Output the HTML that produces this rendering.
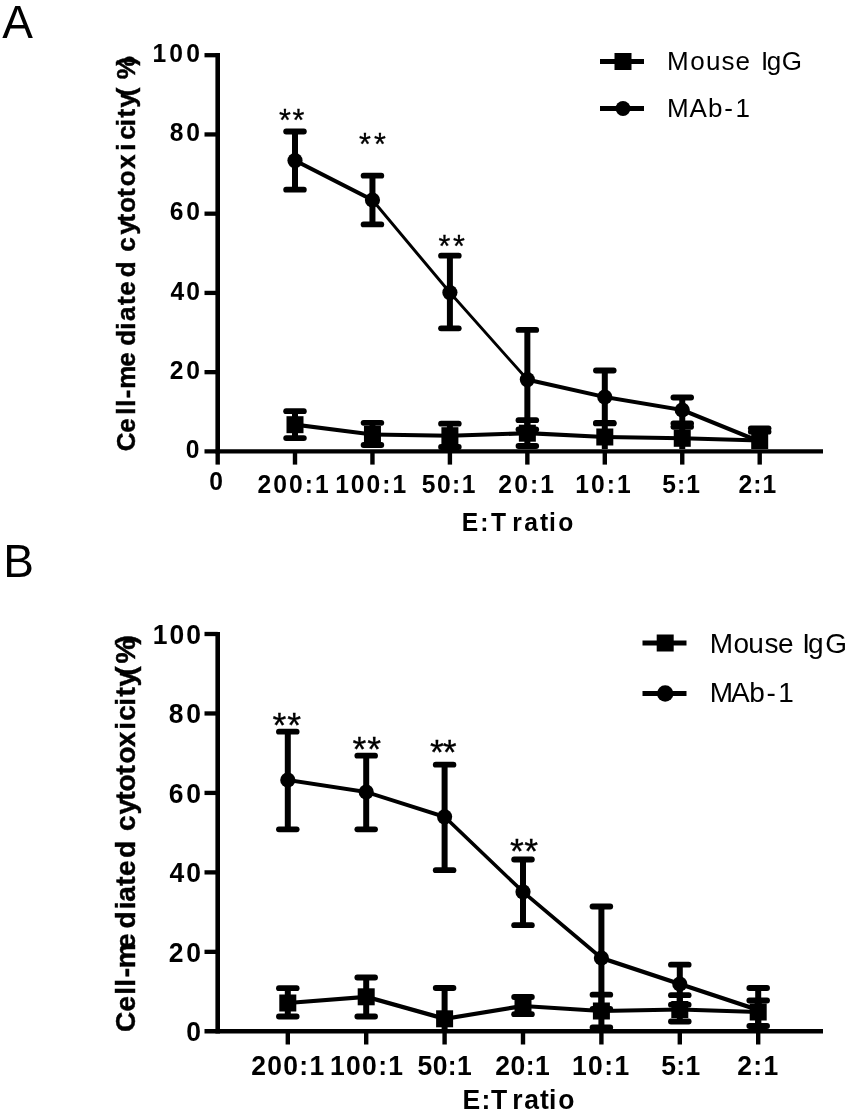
<!DOCTYPE html>
<html lang="en">
<head>
<meta charset="utf-8">
<title>Cell-mediated cytotoxicity</title>
<style>
html,body{margin:0;padding:0;background:#fff;}
body{width:850px;height:1118px;overflow:hidden;}
svg{display:block;}
text{font-family:"Liberation Sans", sans-serif;fill:#000;white-space:pre;}
.tk{font-weight:bold;}
.rg{font-weight:normal;}
</style>
</head>
<body>
<svg width="850" height="1118" viewBox="0 0 850 1118">
<rect x="0" y="0" width="850" height="1118" fill="#fff"/>
<g id="panelA">
<line x1="217.7" y1="53.10" x2="217.7" y2="453.50" stroke="#000" stroke-width="4.6"/>
<line x1="204.5" y1="451.4" x2="823" y2="451.4" stroke="#000" stroke-width="4.4"/>
<text transform="translate(185.73,458.20) scale(0.93,1.0)" class="tk" style="font-size:26.5px;letter-spacing:0.00px">0</text>
<line x1="204.5" y1="372.16" x2="217.7" y2="372.16" stroke="#000" stroke-width="4.3"/>
<text transform="translate(169.73,378.96) scale(0.93,1.0)" class="tk" style="font-size:26.5px;letter-spacing:3.07px">20</text>
<line x1="204.5" y1="292.92" x2="217.7" y2="292.92" stroke="#000" stroke-width="4.3"/>
<text transform="translate(170.50,299.72) scale(0.93,1.0)" class="tk" style="font-size:26.5px;letter-spacing:2.24px">40</text>
<line x1="204.5" y1="213.68" x2="217.7" y2="213.68" stroke="#000" stroke-width="4.3"/>
<text transform="translate(169.73,220.48) scale(0.93,1.0)" class="tk" style="font-size:26.5px;letter-spacing:3.07px">60</text>
<line x1="204.5" y1="134.44" x2="217.7" y2="134.44" stroke="#000" stroke-width="4.3"/>
<text transform="translate(169.73,141.24) scale(0.93,1.0)" class="tk" style="font-size:26.5px;letter-spacing:3.07px">80</text>
<line x1="204.5" y1="55.20" x2="217.7" y2="55.20" stroke="#000" stroke-width="4.3"/>
<text transform="translate(152.46,62.00) scale(0.93,1.0)" class="tk" style="font-size:26.5px;letter-spacing:3.45px">100</text>
<line x1="217.70" y1="451.4" x2="217.70" y2="464.60" stroke="#000" stroke-width="4.4"/>
<line x1="295.00" y1="451.4" x2="295.00" y2="464.60" stroke="#000" stroke-width="4.4"/>
<line x1="372.45" y1="451.4" x2="372.45" y2="464.60" stroke="#000" stroke-width="4.4"/>
<line x1="449.90" y1="451.4" x2="449.90" y2="464.60" stroke="#000" stroke-width="4.4"/>
<line x1="527.35" y1="451.4" x2="527.35" y2="464.60" stroke="#000" stroke-width="4.4"/>
<line x1="604.80" y1="451.4" x2="604.80" y2="464.60" stroke="#000" stroke-width="4.4"/>
<line x1="682.25" y1="451.4" x2="682.25" y2="464.60" stroke="#000" stroke-width="4.4"/>
<line x1="759.70" y1="451.4" x2="759.70" y2="464.60" stroke="#000" stroke-width="4.4"/>
<text transform="translate(257.43,493.00) scale(0.93,1.0)" class="tk" style="font-size:26.5px;letter-spacing:2.25px">200:1</text>
<text transform="translate(335.16,493.00) scale(0.93,1.0)" class="tk" style="font-size:26.5px;letter-spacing:2.14px">100:1</text>
<text transform="translate(421.71,493.00) scale(0.93,1.0)" class="tk" style="font-size:26.5px;letter-spacing:1.62px">50:1</text>
<text transform="translate(498.33,493.00) scale(0.93,1.0)" class="tk" style="font-size:26.5px;letter-spacing:2.26px">20:1</text>
<text transform="translate(575.16,493.00) scale(0.93,1.0)" class="tk" style="font-size:26.5px;letter-spacing:2.21px">10:1</text>
<text transform="translate(662.21,493.00) scale(0.93,1.0)" class="tk" style="font-size:26.5px;letter-spacing:1.14px">5:1</text>
<text transform="translate(738.43,493.00) scale(0.93,1.0)" class="tk" style="font-size:26.5px;letter-spacing:1.13px">2:1</text>
<text transform="translate(209.23,489.70) scale(0.93,1.0)" class="tk" style="font-size:26.5px;letter-spacing:0.00px">0</text>
<text transform="translate(0,530.50) scale(0.93,1)" class="tk" style="font-size:26.5px"><tspan x="496.62 516.33 527.96">E:T</tspan> <tspan x="550.92 563.67 580.54 590.39 600.25">ratio</tspan></text>
<text transform="translate(135.3,450.5) rotate(-90) scale(1.0,1)" class="tk" style="font-size:26px" stroke="#000" stroke-width="0.45"><tspan x="-0.81 17.69 35.88 43.88 52.29 61.88 83.69 104.69 120.88 129.59 145.50 154.69 173.29">Cell-mediated</tspan> <tspan x="198.89 216.00 227.90 237.69 253.50 264.19 281.50 299.88 310.69 324.38 332.90 342.90 354.28 371.29 385.00">cytotoxicity(%)</tspan></text>
<text x="2.2" y="38.1" class="rg" style="font-size:46px">A</text>
<path fill="#000" d="M295.00 422.58 L372.45 432.38 L372.45 436.62 L295.00 426.82Z M372.45 432.44 L449.90 433.64 L449.90 437.76 L372.45 436.56Z M449.90 433.63 L527.35 431.13 L527.35 435.27 L449.90 437.77Z M527.35 431.12 L604.80 434.92 L604.80 439.08 L527.35 435.28Z M604.80 434.94 L682.25 436.24 L682.25 440.36 L604.80 439.06Z M682.25 436.23 L759.70 438.43 L759.70 442.57 L682.25 440.37Z"/>
<path fill="#000" d="M295.00 158.37 L372.45 197.77 L372.45 202.23 L295.00 162.83Z M370.50 200.00 L447.95 292.60 L451.85 292.60 L374.40 200.00Z M447.95 292.60 L525.40 379.60 L529.30 379.60 L451.85 292.60Z M527.35 377.53 L604.80 394.93 L604.80 399.07 L527.35 381.67Z M604.80 394.96 L682.25 407.96 L682.25 412.04 L604.80 399.04Z M682.25 407.83 L759.70 439.33 L759.70 443.67 L682.25 412.17Z"/>
<line x1="295.00" y1="411.20" x2="295.00" y2="438.10" stroke="#000" stroke-width="6.0"/>
<line x1="286.15" y1="411.20" x2="303.85" y2="411.20" stroke="#000" stroke-width="5.8" stroke-linecap="round"/>
<line x1="286.15" y1="438.10" x2="303.85" y2="438.10" stroke="#000" stroke-width="5.8" stroke-linecap="round"/>
<rect x="286.50" y="416.20" width="17" height="17" fill="#000"/>
<line x1="372.45" y1="422.80" x2="372.45" y2="445.00" stroke="#000" stroke-width="6.0"/>
<line x1="363.60" y1="422.80" x2="381.30" y2="422.80" stroke="#000" stroke-width="5.8" stroke-linecap="round"/>
<line x1="363.60" y1="445.00" x2="381.30" y2="445.00" stroke="#000" stroke-width="5.8" stroke-linecap="round"/>
<rect x="363.95" y="426.00" width="17" height="17" fill="#000"/>
<line x1="449.90" y1="423.70" x2="449.90" y2="447.00" stroke="#000" stroke-width="6.0"/>
<line x1="441.05" y1="423.70" x2="458.75" y2="423.70" stroke="#000" stroke-width="5.8" stroke-linecap="round"/>
<line x1="441.05" y1="447.00" x2="458.75" y2="447.00" stroke="#000" stroke-width="5.8" stroke-linecap="round"/>
<rect x="441.40" y="427.20" width="17" height="17" fill="#000"/>
<line x1="527.35" y1="420.20" x2="527.35" y2="446.00" stroke="#000" stroke-width="6.0"/>
<line x1="518.50" y1="420.20" x2="536.20" y2="420.20" stroke="#000" stroke-width="5.8" stroke-linecap="round"/>
<line x1="518.50" y1="446.00" x2="536.20" y2="446.00" stroke="#000" stroke-width="5.8" stroke-linecap="round"/>
<rect x="518.85" y="424.70" width="17" height="17" fill="#000"/>
<line x1="604.80" y1="423.40" x2="604.80" y2="449.00" stroke="#000" stroke-width="6.0"/>
<line x1="595.95" y1="423.40" x2="613.65" y2="423.40" stroke="#000" stroke-width="5.8" stroke-linecap="round"/>
<rect x="596.30" y="428.50" width="17" height="17" fill="#000"/>
<line x1="682.25" y1="426.80" x2="682.25" y2="449.00" stroke="#000" stroke-width="6.0"/>
<line x1="673.40" y1="426.80" x2="691.10" y2="426.80" stroke="#000" stroke-width="5.8" stroke-linecap="round"/>
<rect x="673.75" y="429.80" width="17" height="17" fill="#000"/>
<line x1="759.70" y1="431.70" x2="759.70" y2="449.00" stroke="#000" stroke-width="6.0"/>
<line x1="750.85" y1="431.70" x2="768.55" y2="431.70" stroke="#000" stroke-width="5.8" stroke-linecap="round"/>
<rect x="751.20" y="432.00" width="17" height="17" fill="#000"/>
<line x1="295.00" y1="131.50" x2="295.00" y2="189.70" stroke="#000" stroke-width="6.0"/>
<line x1="286.15" y1="131.50" x2="303.85" y2="131.50" stroke="#000" stroke-width="5.8" stroke-linecap="round"/>
<line x1="286.15" y1="189.70" x2="303.85" y2="189.70" stroke="#000" stroke-width="5.8" stroke-linecap="round"/>
<circle cx="295.00" cy="160.60" r="7.6" fill="#000"/>
<line x1="372.45" y1="175.70" x2="372.45" y2="224.40" stroke="#000" stroke-width="6.0"/>
<line x1="363.60" y1="175.70" x2="381.30" y2="175.70" stroke="#000" stroke-width="5.8" stroke-linecap="round"/>
<line x1="363.60" y1="224.40" x2="381.30" y2="224.40" stroke="#000" stroke-width="5.8" stroke-linecap="round"/>
<circle cx="372.45" cy="200.00" r="7.6" fill="#000"/>
<line x1="449.90" y1="255.70" x2="449.90" y2="328.30" stroke="#000" stroke-width="6.0"/>
<line x1="441.05" y1="255.70" x2="458.75" y2="255.70" stroke="#000" stroke-width="5.8" stroke-linecap="round"/>
<line x1="441.05" y1="328.30" x2="458.75" y2="328.30" stroke="#000" stroke-width="5.8" stroke-linecap="round"/>
<circle cx="449.90" cy="292.60" r="7.6" fill="#000"/>
<line x1="527.35" y1="329.90" x2="527.35" y2="429.50" stroke="#000" stroke-width="6.0"/>
<line x1="518.50" y1="329.90" x2="536.20" y2="329.90" stroke="#000" stroke-width="5.8" stroke-linecap="round"/>
<line x1="518.50" y1="429.50" x2="536.20" y2="429.50" stroke="#000" stroke-width="5.8" stroke-linecap="round"/>
<circle cx="527.35" cy="379.60" r="7.6" fill="#000"/>
<line x1="604.80" y1="370.50" x2="604.80" y2="423.00" stroke="#000" stroke-width="6.0"/>
<line x1="595.95" y1="370.50" x2="613.65" y2="370.50" stroke="#000" stroke-width="5.8" stroke-linecap="round"/>
<line x1="595.95" y1="423.00" x2="613.65" y2="423.00" stroke="#000" stroke-width="5.8" stroke-linecap="round"/>
<circle cx="604.80" cy="397.00" r="7.6" fill="#000"/>
<line x1="682.25" y1="397.50" x2="682.25" y2="423.50" stroke="#000" stroke-width="6.0"/>
<line x1="673.40" y1="397.50" x2="691.10" y2="397.50" stroke="#000" stroke-width="5.8" stroke-linecap="round"/>
<line x1="673.40" y1="423.50" x2="691.10" y2="423.50" stroke="#000" stroke-width="5.8" stroke-linecap="round"/>
<circle cx="682.25" cy="410.00" r="7.6" fill="#000"/>
<line x1="759.70" y1="428.30" x2="759.70" y2="449.00" stroke="#000" stroke-width="6.0"/>
<line x1="750.85" y1="428.30" x2="768.55" y2="428.30" stroke="#000" stroke-width="5.8" stroke-linecap="round"/>
<circle cx="759.70" cy="441.50" r="7.6" fill="#000"/>
<text transform="translate(279.02,131.00) scale(1.0,1.0)" class="rg" style="font-size:30.5px;letter-spacing:1.67px" stroke="#000" stroke-width="0.3">**</text>
<text transform="translate(359.02,154.90) scale(1.0,1.0)" class="rg" style="font-size:30.5px;letter-spacing:3.17px" stroke="#000" stroke-width="0.3">**</text>
<text transform="translate(438.52,257.30) scale(1.0,1.0)" class="rg" style="font-size:30.5px;letter-spacing:2.67px" stroke="#000" stroke-width="0.3">**</text>
<line x1="600" y1="61.5" x2="644" y2="61.5" stroke="#000" stroke-width="5"/>
<rect x="614.50" y="53.00" width="17" height="17" fill="#000"/>
<line x1="600" y1="108.5" x2="644" y2="108.5" stroke="#000" stroke-width="5"/>
<circle cx="623.00" cy="108.5" r="7.5" fill="#000"/>
<text transform="translate(0,70.00) scale(1.0,1)" class="rg" style="font-size:26px"><tspan x="666.97 690.19 705.88 721.59 735.49">Mouse</tspan> <tspan x="760.97 766.69 781.78">IgG</tspan></text>
<text transform="translate(0,117.00) scale(1.0,1)" class="rg" style="font-size:26px"><tspan x="666.97 689.50 707.88 724.19 735.38">MAb-1</tspan></text>
</g>
<g id="panelB">
<line x1="217.7" y1="631.90" x2="217.7" y2="1033.40" stroke="#000" stroke-width="4.6"/>
<line x1="204.5" y1="1031.3" x2="823" y2="1031.3" stroke="#000" stroke-width="4.4"/>
<text transform="translate(186.17,1041.30) scale(0.93,1.0)" class="tk" style="font-size:28.5px;letter-spacing:0.00px">0</text>
<line x1="204.5" y1="951.84" x2="217.7" y2="951.84" stroke="#000" stroke-width="4.3"/>
<text transform="translate(168.67,961.84) scale(0.93,1.0)" class="tk" style="font-size:28.5px;letter-spacing:3.14px">20</text>
<line x1="204.5" y1="872.38" x2="217.7" y2="872.38" stroke="#000" stroke-width="4.3"/>
<text transform="translate(169.50,882.38) scale(0.93,1.0)" class="tk" style="font-size:28.5px;letter-spacing:2.25px">40</text>
<line x1="204.5" y1="792.92" x2="217.7" y2="792.92" stroke="#000" stroke-width="4.3"/>
<text transform="translate(168.67,802.92) scale(0.93,1.0)" class="tk" style="font-size:28.5px;letter-spacing:3.14px">60</text>
<line x1="204.5" y1="713.46" x2="217.7" y2="713.46" stroke="#000" stroke-width="4.3"/>
<text transform="translate(168.67,723.46) scale(0.93,1.0)" class="tk" style="font-size:28.5px;letter-spacing:3.14px">80</text>
<line x1="204.5" y1="634.00" x2="217.7" y2="634.00" stroke="#000" stroke-width="4.3"/>
<text transform="translate(152.84,644.00) scale(0.93,1.0)" class="tk" style="font-size:28.5px;letter-spacing:2.15px">100</text>
<line x1="287.80" y1="1031.3" x2="287.80" y2="1044.50" stroke="#000" stroke-width="4.4"/>
<line x1="366.20" y1="1031.3" x2="366.20" y2="1044.50" stroke="#000" stroke-width="4.4"/>
<line x1="444.60" y1="1031.3" x2="444.60" y2="1044.50" stroke="#000" stroke-width="4.4"/>
<line x1="523.00" y1="1031.3" x2="523.00" y2="1044.50" stroke="#000" stroke-width="4.4"/>
<line x1="601.40" y1="1031.3" x2="601.40" y2="1044.50" stroke="#000" stroke-width="4.4"/>
<line x1="679.80" y1="1031.3" x2="679.80" y2="1044.50" stroke="#000" stroke-width="4.4"/>
<line x1="758.20" y1="1031.3" x2="758.20" y2="1044.50" stroke="#000" stroke-width="4.4"/>
<text transform="translate(251.17,1074.80) scale(0.93,1.0)" class="tk" style="font-size:28.5px;letter-spacing:1.39px">200:1</text>
<text transform="translate(329.94,1074.80) scale(0.93,1.0)" class="tk" style="font-size:28.5px;letter-spacing:1.45px">100:1</text>
<text transform="translate(417.59,1074.80) scale(0.93,1.0)" class="tk" style="font-size:28.5px;letter-spacing:0.40px">50:1</text>
<text transform="translate(495.17,1074.80) scale(0.93,1.0)" class="tk" style="font-size:28.5px;letter-spacing:0.54px">20:1</text>
<text transform="translate(571.94,1074.80) scale(0.93,1.0)" class="tk" style="font-size:28.5px;letter-spacing:1.49px">10:1</text>
<text transform="translate(661.19,1074.80) scale(0.93,1.0)" class="tk" style="font-size:28.5px;letter-spacing:0.35px">5:1</text>
<text transform="translate(737.17,1074.80) scale(0.93,1.0)" class="tk" style="font-size:28.5px;letter-spacing:1.43px">2:1</text>
<text transform="translate(0,1109.00) scale(0.93,1)" class="tk" style="font-size:28.5px"><tspan x="497.36 517.76 527.96">E:T</tspan> <tspan x="550.80 563.64 580.54 590.26 600.18">ratio</tspan></text>
<text transform="translate(135.1,1031) rotate(-90) scale(1.0,1)" class="tk" style="font-size:28px" stroke="#000" stroke-width="0.45"><tspan x="-0.88 19.62 36.25 44.25 53.73 62.85 82.12 102.53 121.65 129.26 145.30 154.93 173.12">Cell-mediated</tspan> <tspan x="200.03 216.50 230.30 239.43 256.60 267.62 283.70 301.25 310.32 325.25 334.50 344.50 355.19 367.56 386.50">cytotoxicity(%)</tspan></text>
<text x="3.3" y="576.9" class="rg" style="font-size:46px">B</text>
<path fill="#000" d="M287.80 1000.90 L366.20 994.70 L366.20 998.90 L287.80 1005.10Z M366.20 994.59 L444.60 1016.59 L444.60 1021.01 L366.20 999.01Z M444.60 1016.66 L523.00 1003.86 L523.00 1008.14 L444.60 1020.94Z M523.00 1003.91 L601.40 1008.91 L601.40 1013.09 L523.00 1008.09Z M601.40 1008.94 L679.80 1007.44 L679.80 1011.56 L601.40 1013.06Z M679.80 1007.43 L758.20 1009.93 L758.20 1014.07 L679.80 1011.57Z"/>
<path fill="#000" d="M287.80 777.97 L366.20 789.97 L366.20 794.03 L287.80 782.03Z M366.20 789.88 L444.60 814.68 L444.60 818.92 L366.20 794.12Z M444.60 814.33 L523.00 889.33 L523.00 894.27 L444.60 819.27Z M523.00 889.39 L601.40 955.59 L601.40 960.41 L523.00 894.21Z M601.40 955.87 L679.80 981.87 L679.80 986.13 L601.40 960.13Z M679.80 981.87 L758.20 1007.87 L758.20 1012.13 L679.80 986.13Z"/>
<line x1="287.80" y1="988.20" x2="287.80" y2="1016.50" stroke="#000" stroke-width="6.0"/>
<line x1="278.95" y1="988.20" x2="296.65" y2="988.20" stroke="#000" stroke-width="5.8" stroke-linecap="round"/>
<line x1="278.95" y1="1016.50" x2="296.65" y2="1016.50" stroke="#000" stroke-width="5.8" stroke-linecap="round"/>
<rect x="279.30" y="994.50" width="17" height="17" fill="#000"/>
<line x1="366.20" y1="977.50" x2="366.20" y2="1016.50" stroke="#000" stroke-width="6.0"/>
<line x1="357.35" y1="977.50" x2="375.05" y2="977.50" stroke="#000" stroke-width="5.8" stroke-linecap="round"/>
<line x1="357.35" y1="1016.50" x2="375.05" y2="1016.50" stroke="#000" stroke-width="5.8" stroke-linecap="round"/>
<rect x="357.70" y="988.30" width="17" height="17" fill="#000"/>
<line x1="444.60" y1="988.00" x2="444.60" y2="1031.30" stroke="#000" stroke-width="6.0"/>
<line x1="435.75" y1="988.00" x2="453.45" y2="988.00" stroke="#000" stroke-width="5.8" stroke-linecap="round"/>
<rect x="436.10" y="1010.30" width="17" height="17" fill="#000"/>
<line x1="523.00" y1="997.00" x2="523.00" y2="1014.20" stroke="#000" stroke-width="6.0"/>
<line x1="514.15" y1="997.00" x2="531.85" y2="997.00" stroke="#000" stroke-width="5.8" stroke-linecap="round"/>
<line x1="514.15" y1="1014.20" x2="531.85" y2="1014.20" stroke="#000" stroke-width="5.8" stroke-linecap="round"/>
<rect x="514.50" y="997.50" width="17" height="17" fill="#000"/>
<line x1="601.40" y1="994.70" x2="601.40" y2="1027.50" stroke="#000" stroke-width="6.0"/>
<line x1="592.55" y1="994.70" x2="610.25" y2="994.70" stroke="#000" stroke-width="5.8" stroke-linecap="round"/>
<line x1="592.55" y1="1027.50" x2="610.25" y2="1027.50" stroke="#000" stroke-width="5.8" stroke-linecap="round"/>
<rect x="592.90" y="1002.50" width="17" height="17" fill="#000"/>
<line x1="679.80" y1="995.20" x2="679.80" y2="1021.50" stroke="#000" stroke-width="6.0"/>
<line x1="670.95" y1="995.20" x2="688.65" y2="995.20" stroke="#000" stroke-width="5.8" stroke-linecap="round"/>
<line x1="670.95" y1="1021.50" x2="688.65" y2="1021.50" stroke="#000" stroke-width="5.8" stroke-linecap="round"/>
<rect x="671.30" y="1001.00" width="17" height="17" fill="#000"/>
<line x1="758.20" y1="1000.50" x2="758.20" y2="1026.00" stroke="#000" stroke-width="6.0"/>
<line x1="749.35" y1="1000.50" x2="767.05" y2="1000.50" stroke="#000" stroke-width="5.8" stroke-linecap="round"/>
<line x1="749.35" y1="1026.00" x2="767.05" y2="1026.00" stroke="#000" stroke-width="5.8" stroke-linecap="round"/>
<rect x="749.70" y="1003.50" width="17" height="17" fill="#000"/>
<line x1="287.80" y1="731.70" x2="287.80" y2="829.30" stroke="#000" stroke-width="6.0"/>
<line x1="278.95" y1="731.70" x2="296.65" y2="731.70" stroke="#000" stroke-width="5.8" stroke-linecap="round"/>
<line x1="278.95" y1="829.30" x2="296.65" y2="829.30" stroke="#000" stroke-width="5.8" stroke-linecap="round"/>
<circle cx="287.80" cy="780.00" r="7.6" fill="#000"/>
<line x1="366.20" y1="755.70" x2="366.20" y2="829.30" stroke="#000" stroke-width="6.0"/>
<line x1="357.35" y1="755.70" x2="375.05" y2="755.70" stroke="#000" stroke-width="5.8" stroke-linecap="round"/>
<line x1="357.35" y1="829.30" x2="375.05" y2="829.30" stroke="#000" stroke-width="5.8" stroke-linecap="round"/>
<circle cx="366.20" cy="792.00" r="7.6" fill="#000"/>
<line x1="444.60" y1="764.70" x2="444.60" y2="870.20" stroke="#000" stroke-width="6.0"/>
<line x1="435.75" y1="764.70" x2="453.45" y2="764.70" stroke="#000" stroke-width="5.8" stroke-linecap="round"/>
<line x1="435.75" y1="870.20" x2="453.45" y2="870.20" stroke="#000" stroke-width="5.8" stroke-linecap="round"/>
<circle cx="444.60" cy="816.80" r="7.6" fill="#000"/>
<line x1="523.00" y1="859.50" x2="523.00" y2="925.20" stroke="#000" stroke-width="6.0"/>
<line x1="514.15" y1="859.50" x2="531.85" y2="859.50" stroke="#000" stroke-width="5.8" stroke-linecap="round"/>
<line x1="514.15" y1="925.20" x2="531.85" y2="925.20" stroke="#000" stroke-width="5.8" stroke-linecap="round"/>
<circle cx="523.00" cy="891.80" r="7.6" fill="#000"/>
<line x1="601.40" y1="906.50" x2="601.40" y2="1009.00" stroke="#000" stroke-width="6.0"/>
<line x1="592.55" y1="906.50" x2="610.25" y2="906.50" stroke="#000" stroke-width="5.8" stroke-linecap="round"/>
<line x1="592.55" y1="1009.00" x2="610.25" y2="1009.00" stroke="#000" stroke-width="5.8" stroke-linecap="round"/>
<circle cx="601.40" cy="958.00" r="7.6" fill="#000"/>
<line x1="679.80" y1="964.70" x2="679.80" y2="1004.70" stroke="#000" stroke-width="6.0"/>
<line x1="670.95" y1="964.70" x2="688.65" y2="964.70" stroke="#000" stroke-width="5.8" stroke-linecap="round"/>
<line x1="670.95" y1="1004.70" x2="688.65" y2="1004.70" stroke="#000" stroke-width="5.8" stroke-linecap="round"/>
<circle cx="679.80" cy="984.00" r="7.6" fill="#000"/>
<line x1="758.20" y1="988.00" x2="758.20" y2="1030.00" stroke="#000" stroke-width="6.0"/>
<line x1="749.35" y1="988.00" x2="767.05" y2="988.00" stroke="#000" stroke-width="5.8" stroke-linecap="round"/>
<circle cx="758.20" cy="1010.00" r="7.6" fill="#000"/>
<text transform="translate(272.45,737.30) scale(1.0,1.0)" class="rg" style="font-size:35.5px;letter-spacing:0.93px" stroke="#000" stroke-width="0.3">**</text>
<text transform="translate(352.45,760.60) scale(1.0,1.0)" class="rg" style="font-size:35.5px;letter-spacing:0.93px" stroke="#000" stroke-width="0.3">**</text>
<text transform="translate(429.95,763.60) scale(1.0,1.0)" class="rg" style="font-size:35.5px;letter-spacing:-1.07px" stroke="#000" stroke-width="0.3">**</text>
<text transform="translate(509.95,862.60) scale(1.0,1.0)" class="rg" style="font-size:35.5px;letter-spacing:0.43px" stroke="#000" stroke-width="0.3">**</text>
<line x1="642.5" y1="643" x2="686.5" y2="643" stroke="#000" stroke-width="5"/>
<rect x="656.70" y="634.50" width="17" height="17" fill="#000"/>
<line x1="642.5" y1="693.5" x2="686.5" y2="693.5" stroke="#000" stroke-width="5"/>
<circle cx="665.20" cy="693.5" r="8.2" fill="#000"/>
<text transform="translate(0,653.00) scale(1.0,1)" class="rg" style="font-size:28px"><tspan x="709.81 733.62 748.25 764.56 778.12">Mouse</tspan> <tspan x="802.31 808.12 825.19">IgG</tspan></text>
<text transform="translate(0,702.00) scale(1.0,1)" class="rg" style="font-size:28px"><tspan x="709.81 731.00 749.25 766.62 778.25">MAb-1</tspan></text>
</g>
</svg>
</body>
</html>
